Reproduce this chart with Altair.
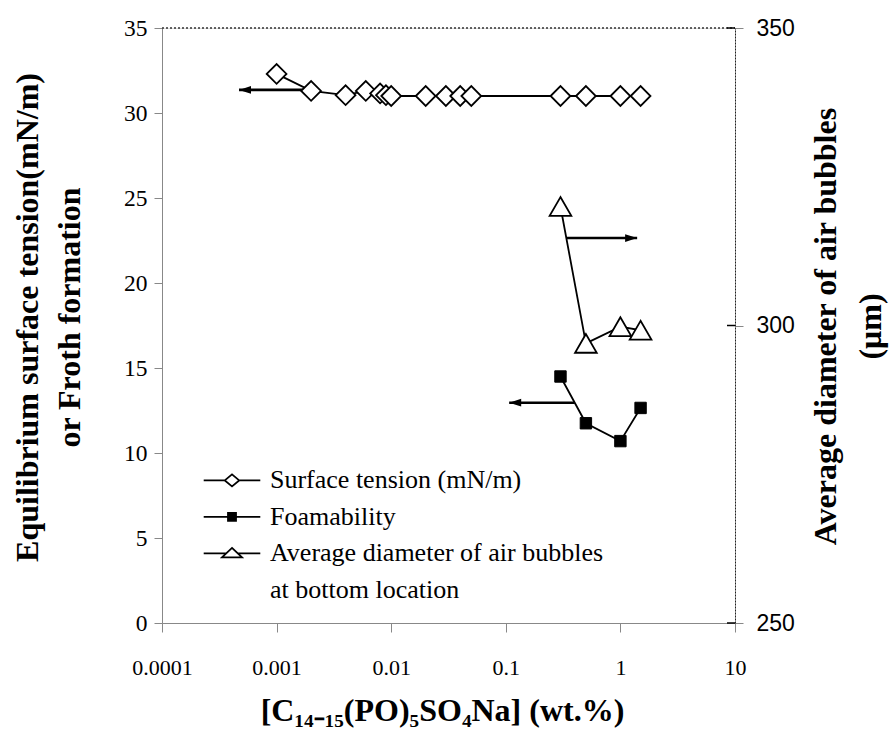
import altair as alt
import pandas as pd

# ---------------- data ----------------
st_conc = [0.001, 0.002, 0.004, 0.006, 0.008, 0.009, 0.01, 0.02, 0.03, 0.04, 0.05, 0.3, 0.5, 1.0, 1.5]
st_tension = [32.3, 31.3, 31.05, 31.3, 31.15, 31.05, 31.0, 31.0, 31.0, 31.0, 31.0, 31.0, 31.0, 31.0, 31.0]

foam_conc = [0.3, 0.5, 1.0, 1.5]
foam_value = [14.5, 11.75, 10.7, 12.65]

bubble_conc = [0.3, 0.5, 1.0, 1.5]
bubble_diam = [320.0, 297.0, 299.8, 299.2]

# arrows: [start concentration, tip concentration, level]
arrow_st = [0.002, 0.00047, 31.36]
arrow_foam = [0.40, 0.107, 12.96]
arrow_bubble = [0.34, 1.40, 314.7]

legend_labels = ["Surface tension (mN/m)", "Foamability",
                 "Average diameter of air bubbles", "at bottom location"]

x_tick_values = [0.0001, 0.001, 0.01, 0.1, 1, 10]
left_tick_values = [0, 5, 10, 15, 20, 25, 30, 35]
right_tick_values = [250, 300, 350]

# ---------------- styling ----------------
W, H = 573, 595
SERIF = "Liberation Serif"
SANS = "Liberation Sans"
LW = 1.8
X_TITLE = "[C₁₄₋₁₅(PO)₅SO₄Na] (wt.%)"

st_df = pd.DataFrame({"x": st_conc, "v": st_tension})
foam_df = pd.DataFrame({"x": foam_conc, "v": foam_value})
bub_df = pd.DataFrame({"x": bubble_conc, "v": bubble_diam})


def arrow_df(a):
    return pd.DataFrame({"x": [a[0]], "x2": [a[1]], "v": [a[2]]})


def x_axis():
    return alt.Axis(
        values=x_tick_values, format="~g", labelFlush=False, labelOverlap=False,
        grid=False, tickSize=9, labelPadding=25, labelFontSize=22, labelFont=SERIF,
        title=X_TITLE, titleFontSize=32, titleFontWeight="bold",
        titleFont=SERIF, titleX=280, titleY=97, titleAlign="center",
        titleBaseline="alphabetic",
    )


x_scale = alt.Scale(type="log", domain=[0.0001, 10], nice=False)
x_enc = alt.X("x:Q", scale=x_scale, axis=x_axis())
x_tip = alt.X("x2:Q", scale=x_scale, axis=x_axis())

y_left = alt.Y(
    "v:Q",
    scale=alt.Scale(domain=[0, 35], nice=False, zero=False),
    axis=alt.Axis(
        values=left_tick_values, grid=False, tickSize=8, labelPadding=7,
        labelFontSize=23.5, labelFont=SERIF,
        title=["Equilibrium surface tension(mN/m)", "or Froth formation"],
        titleFontSize=32, titleFontWeight="bold", titleFont=SERIF, titleAngle=270,
        titleX=-135, titleY=289, titleAlign="center", titleBaseline="middle",
        titleLineHeight=42,
    ),
)
y_right = alt.Y(
    "v:Q",
    scale=alt.Scale(domain=[250, 350], nice=False, zero=False),
    axis=alt.Axis(
        orient="right", values=right_tick_values, grid=False, tickSize=8,
        labelPadding=13, labelFontSize=23, labelFont=SANS, domainDash=[2, 1],
        domainColor="#222",
        title=["Average diameter of air bubbles", "(μm)"],
        titleFontSize=32, titleFontWeight="bold", titleFont=SERIF, titleAngle=270,
        titleX=90, titleY=298, titleAlign="center", titleBaseline="middle",
        titleLineHeight=45,
    ),
)

LEFT_HEAD = "M0,0L2,-0.65L2,0.65Z"
RIGHT_HEAD = "M0,0L-2,-0.65L-2,0.65Z"

# top frame line (dotted)
top_border = alt.Chart(pd.DataFrame({"k": [0]})).mark_rule(
    color="#333", strokeWidth=1.5, strokeDash=[2, 2]
).encode(x=alt.value(0), x2=alt.value(W), y=alt.value(0))

st_line = alt.Chart(st_df).mark_line(color="black", strokeWidth=LW).encode(x=x_enc, y=y_left)
foam_line = alt.Chart(foam_df).mark_line(color="black", strokeWidth=LW).encode(x=x_enc, y=y_left)

st_arrow = alt.Chart(arrow_df(arrow_st)).mark_rule(color="black", strokeWidth=2.6).encode(
    x=x_enc, x2="x2:Q", y=y_left)
st_head = alt.Chart(arrow_df(arrow_st)).mark_point(
    shape=LEFT_HEAD, size=144, filled=True, color="black", opacity=1
).encode(x=x_tip, y=y_left)
foam_arrow = alt.Chart(arrow_df(arrow_foam)).mark_rule(color="black", strokeWidth=2.6).encode(
    x=x_enc, x2="x2:Q", y=y_left)
foam_head = alt.Chart(arrow_df(arrow_foam)).mark_point(
    shape=LEFT_HEAD, size=144, filled=True, color="black", opacity=1
).encode(x=x_tip, y=y_left)

st_pts = alt.Chart(st_df).mark_point(
    shape="diamond", size=390, filled=True, fill="white", stroke="black",
    strokeWidth=LW, opacity=1
).encode(x=x_enc, y=y_left)
foam_pts = alt.Chart(foam_df).mark_point(
    shape="square", size=130, filled=True, fill="black", stroke="black",
    strokeWidth=1, opacity=1
).encode(x=x_enc, y=y_left)

# legend (real Vega legend, custom line+marker symbols)
legend_paths = [
    "M-2.83,-0.76H-0.72M0.72,-0.76H2.83M-0.72,-0.76L0,-1.36L0.72,-0.76L0,-0.16Z",
    "M-2.83,-0.76H2.83M-0.4,-1.16H0.4V-0.36H-0.4Z",
    "M-2.83,-0.76H-0.58M0.58,-0.76H2.83M0,-1.31L1,-0.36L-1,-0.36Z",
    "M0,0Z",
]
legend_fills = ["white", "black", "white", "white"]
legend_strokes = ["black", "black", "black", "black"]
legend_def = alt.Legend(
    title=None, orient="none", legendX=57, legendY=447, symbolSize=400,
    symbolStrokeWidth=LW, labelFont=SERIF,
    labelFontSize=26, labelColor="black", labelOffset=25, labelLimit=700,
    rowPadding=10.5, padding=0, labelBaseline="alphabetic", symbolOpacity=1,
)
leg_df = pd.DataFrame({"series": legend_labels, "v": [0, 0, 0, 0]})
legend_layer = alt.Chart(leg_df).transform_filter("datum.v > 1").mark_point(
    filled=True, strokeWidth=LW, opacity=1
).encode(
    x=alt.value(0), y=alt.value(0),
    shape=alt.Shape("series:N", scale=alt.Scale(domain=legend_labels, range=legend_paths),
                    legend=legend_def),
    fill=alt.Fill("series:N", scale=alt.Scale(domain=legend_labels, range=legend_fills),
                  legend=legend_def),
    stroke=alt.Stroke("series:N", scale=alt.Scale(domain=legend_labels, range=legend_strokes),
                      legend=legend_def),
)

left = alt.layer(top_border, st_line, foam_line, st_arrow, st_head, foam_arrow, foam_head,
                 st_pts, foam_pts, legend_layer)

# right-axis group
bub_line = alt.Chart(bub_df).mark_line(color="black", strokeWidth=LW).encode(x=x_enc, y=y_right)
bub_arrow = alt.Chart(arrow_df(arrow_bubble)).mark_rule(color="black", strokeWidth=2.6).encode(
    x=x_enc, x2="x2:Q", y=y_right)
bub_head = alt.Chart(arrow_df(arrow_bubble)).mark_point(
    shape=RIGHT_HEAD, size=144, filled=True, color="black", opacity=1
).encode(x=x_tip, y=y_right)
bub_pts = alt.Chart(bub_df).mark_point(
    shape="triangle-up", size=470, filled=True, fill="white", stroke="black",
    strokeWidth=LW, opacity=1
).encode(x=x_enc, y=y_right)
inner_ticks = alt.Chart(pd.DataFrame({"v": right_tick_values})).mark_rule(
    color="black", strokeWidth=1.5
).encode(y=y_right, x=alt.value(W - 8), x2=alt.value(W))

right = alt.layer(bub_line, bub_arrow, bub_head, bub_pts, inner_ticks)

chart = alt.layer(left, right).resolve_scale(y="independent").properties(
    width=W, height=H,
    padding={"left": 162, "top": 28, "right": 154, "bottom": 111},
    autosize=alt.AutoSizeParams(type="none"),
    background="white",
).configure_view(stroke=None).configure_axis(
    domainColor="black", domainWidth=1.5, tickColor="black", tickWidth=1.5,
    labelColor="black", titleColor="black", grid=False,
).configure(font=SERIF)

chart.save("out.html", embed_options={"renderer": "svg", "actions": False})
